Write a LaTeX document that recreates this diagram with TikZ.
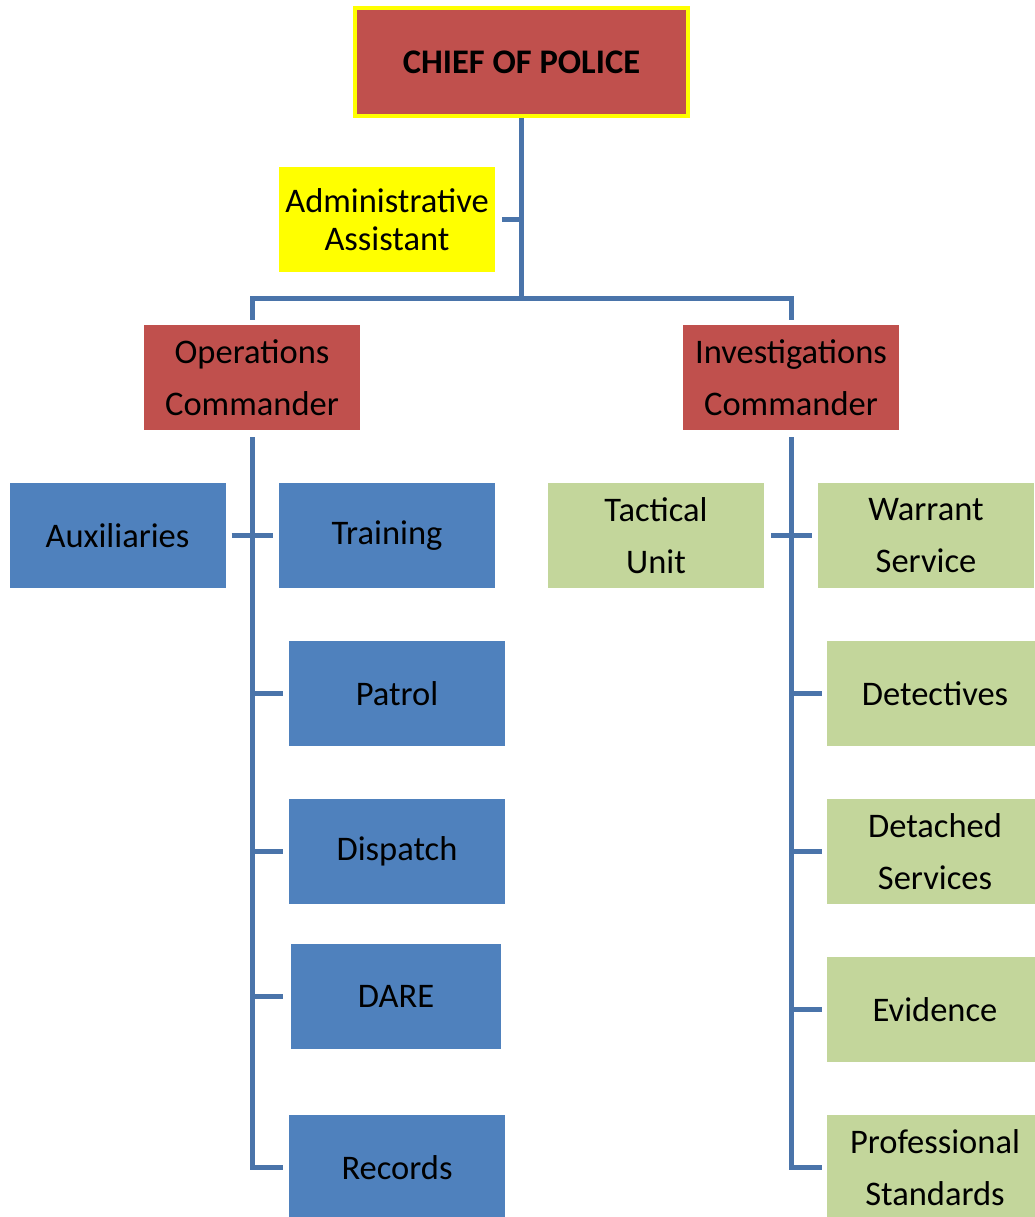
\documentclass[tikz,border=0pt]{standalone}
\usepackage{fontspec}
\setmainfont{Carlito}
\definecolor{chiefred}{HTML}{C0504D}
\definecolor{opsblue}{HTML}{4F81BD}
\definecolor{invgreen}{HTML}{C3D69B}
\definecolor{linkblue}{HTML}{4A74AA}
\definecolor{hiyellow}{HTML}{FFFF00}
\begin{document}
\begin{tikzpicture}[x=1pt,y=-1pt,
  box/.style={minimum width=216pt, minimum height=105pt, inner sep=0pt,
    align=center, font=\fontsize{34.5}{52}\selectfont},
  redbox/.style={box, fill=chiefred},
  bluebox/.style={box, fill=opsblue},
  greenbox/.style={box, fill=invgreen},
  link/.style={draw=linkblue, line width=5pt, line join=miter}
]
\useasboundingbox (0,0) rectangle (1034,1217);

% top of the chain
\node[fill=chiefred, draw=hiyellow, line width=4pt, minimum width=333pt,
  minimum height=108pt, inner sep=0pt,
  font=\fontsize{34.5}{40}\selectfont\bfseries] (chief) at (521.5,62) {CHIEF OF POLICE};
\node[box, fill=hiyellow, font=\fontsize{34.5}{38}\selectfont] (admin) at (387,219.5)
  {Administrative\\Assistant};

% commanders
\node[redbox] (ops) at (252,377.5) {Operations\\Commander};
\node[redbox] (inv) at (791,377.5) {Investigations\\Commander};

% operations units
\node[bluebox] (aux) at (117.5,535.5) {Auxiliaries};
\node[bluebox] (training) at (387,535.5) {Training};
\node[bluebox] (patrol) at (397,693.5) {Patrol};
\node[bluebox] (dispatch) at (397,851.5) {Dispatch};
\node[bluebox, minimum width=210pt] (dare) at (396,996.5) {DARE};
\node[bluebox] (records) at (397,1167.5) {Records};

% investigations units
\node[greenbox] (tactical) at (656,535.5) {Tactical\\Unit};
\node[greenbox] (warrant) at (926,535.5) {Warrant\\Service};
\node[greenbox] (detectives) at (935,693.5) {Detectives};
\node[greenbox] (detached) at (935,851.5) {Detached\\Services};
\node[greenbox] (evidence) at (935,1009.5) {Evidence};
\node[greenbox] (profstd) at (935,1167.5) {Professional\\Standards};

% connectors
\coordinate (bar) at (521.5,298);
\draw[link] (chief.south) -- (bar);
\draw[link, shorten >=5pt] (bar) -| (ops.north);
\draw[link, shorten >=5pt] (bar) -| (inv.north);
\draw[link, shorten <=7pt] (admin.east) -- (admin.east -| chief.south);

\draw[link, shorten <=7pt, shorten >=6pt] (ops.south) -- (records.west -| ops.south) -- (records.west);
\draw[link, shorten <=6pt, shorten >=6pt] (aux.east) -- (training.west);
\draw[link, shorten >=6pt] (patrol.west -| ops.south) -- (patrol.west);
\draw[link, shorten >=6pt] (dispatch.west -| ops.south) -- (dispatch.west);
\draw[link, shorten >=8pt] (dare.west -| ops.south) -- (dare.west);

\draw[link, shorten <=7pt, shorten >=5pt] (inv.south) -- (profstd.west -| inv.south) -- (profstd.west);
\draw[link, shorten <=7pt, shorten >=6pt] (tactical.east) -- (warrant.west);
\draw[link, shorten >=5pt] (detectives.west -| inv.south) -- (detectives.west);
\draw[link, shorten >=5pt] (detached.west -| inv.south) -- (detached.west);
\draw[link, shorten >=5pt] (evidence.west -| inv.south) -- (evidence.west);
\end{tikzpicture}
\end{document}
